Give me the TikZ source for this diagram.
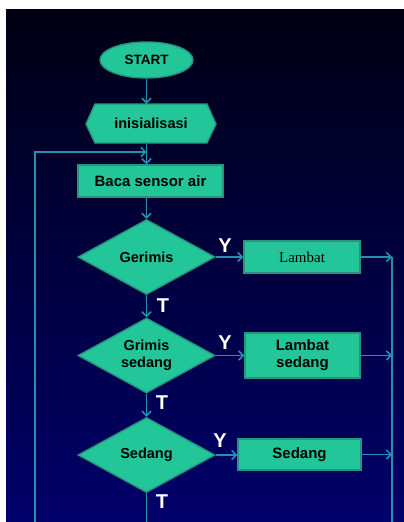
\documentclass[tikz,border=0pt]{standalone}
\usepackage{fontspec}
\setmainfont{Liberation Sans}
\newfontfamily\serifface{Liberation Serif}
\usetikzlibrary{shapes.geometric,arrows.meta}
\definecolor{boxfill}{RGB}{34,198,152}
\definecolor{boxline}{RGB}{40,148,128}
\definecolor{flow}{RGB}{34,146,176}
\definecolor{bgtop}{RGB}{0,0,20}
\definecolor{bgbot}{RGB}{0,0,106}
\begin{document}
\begin{tikzpicture}[x=1pt,y=-1pt,
  shapebase/.style={fill=boxfill,draw=boxline,line width=1.4pt,text=black,inner sep=0pt,align=center,
    font=\bfseries\fontsize{14.5}{16}\selectfont},
  terminal/.style={shapebase,ellipse,minimum width=93pt,minimum height=36pt,font=\bfseries\fontsize{13.5}{15}\selectfont},
  procbox/.style={shapebase,rectangle},
  decision/.style={shapebase,diamond,aspect=1.8,minimum width=137pt,minimum height=75pt},
  flowline/.style={draw=flow,line width=1.5pt},
  flowarrow/.style={flowline,-{Straight Barb[length=4.5pt,width=9pt]}},
  lbl/.style={text=white,font=\bfseries\fontsize{20}{22}\selectfont,inner sep=0pt}
]
\useasboundingbox (0,0) rectangle (404,522);
\fill[white] (0,0) rectangle (404,522);
\shade[top color=bgtop,bottom color=bgbot] (6,9) rectangle (404,522);

% nodes
\node[terminal] (start) at (146.5,60) {START};
\filldraw[fill=boxfill,draw=boxline,line width=1.4pt]
  (86,124) -- (95,104) -- (207,104) -- (216,124) -- (207,143) -- (95,143) -- cycle;
\node[font=\bfseries\fontsize{14.5}{16}\selectfont,inner sep=0pt,minimum width=130pt,minimum height=39pt] (init) at (151,123.5) {inisialisasi};
\node[procbox,minimum width=145pt,minimum height=32pt,font=\bfseries\fontsize{15}{16}\selectfont] (baca) at (150.5,181) {Baca sensor air};

\node[decision] (d1) at (146.5,257) {Gerimis};
\node[decision,font=\bfseries\fontsize{14.5}{16.5}\selectfont] (d2) at (146.5,355.5) {Grimis\\sedang};
\node[decision] (d3) at (146.5,455) {Sedang};

\node[procbox,minimum width=116pt,minimum height=32pt,font=\serifface\fontsize{15}{17}\selectfont] (r1) at (302,257) {Lambat};
\node[procbox,minimum width=115pt,minimum height=45pt,font=\bfseries\fontsize{15}{17}\selectfont] (r2) at (302.5,355.5) {Lambat\\sedang};
\node[procbox,minimum width=123pt,minimum height=31pt,font=\bfseries\fontsize{15}{17}\selectfont] (r3) at (299.5,454.5) {Sedang};

% labels
\node[lbl] (y1) at (225,246) {Y};
\node[lbl] (t1) at (163,306) {T};
\node[lbl] (y2) at (225,343) {Y};
\node[lbl] (t2) at (162,403) {T};
\node[lbl] (y3) at (220,441) {Y};
\node[lbl] (t3) at (162,502) {T};

% coordinates
\coordinate (join) at (146.5,152);
\coordinate (lbot) at (35,522);
\coordinate (rtop) at (392,257);
\coordinate (rbot) at (392,522);
\coordinate (cbot) at (146.5,522);

% connectors
\draw[flowarrow] (start) -- (start |- init.north);
\draw[flowarrow] (start |- init.south) -- (start |- baca.north);
\draw[flowarrow] (lbot) |- (join);
\draw[flowarrow] (start |- baca.south) -- (d1.north);
\draw[flowarrow] (d1.south) -- (d2.north);
\draw[flowarrow] (d2.south) -- (d3.north);
\draw[flowline] (d3.south) -- (cbot);

\draw[flowarrow] (d1.east) -- (r1.west);
\draw[flowarrow] (d2.east) -- (r2.west |- d2.east);
\draw[flowarrow] (d3.east) -- (r3.west |- d3.east);

\draw[flowline] (rtop) -- (rbot);
\draw[flowarrow] (r1.east) -- (rtop);
\draw[flowarrow] (r2.east) -- (r2.east -| rtop);
\draw[flowarrow] (r3.east) -- (r3.east -| rtop);
\end{tikzpicture}
\end{document}
